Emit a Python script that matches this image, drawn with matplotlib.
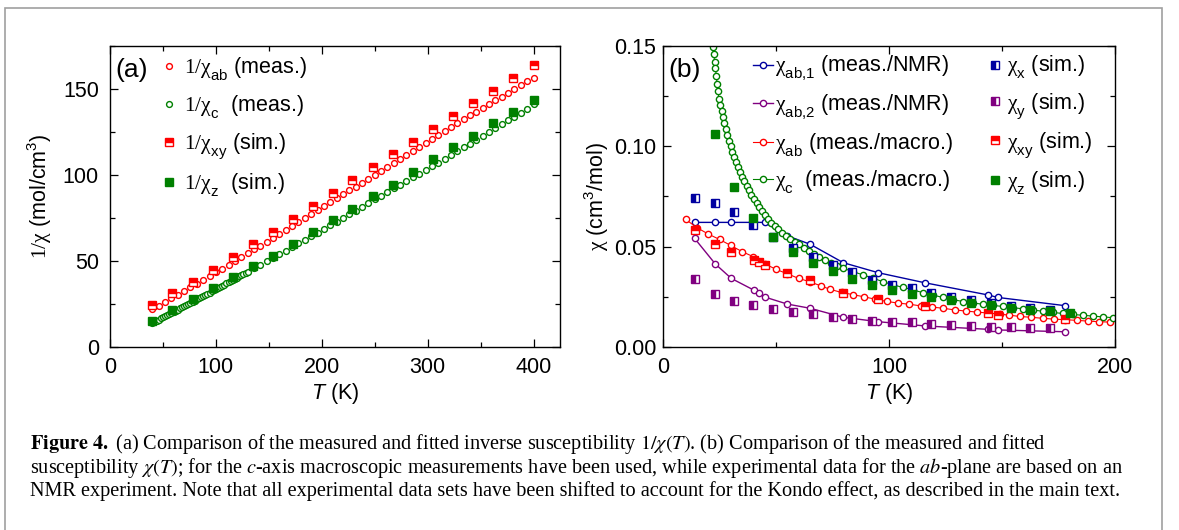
import matplotlib
matplotlib.use('Agg')
import matplotlib.pyplot as plt
import matplotlib._mathtext as mathtext_impl
from matplotlib.patches import Rectangle
from matplotlib.ticker import MultipleLocator, FormatStrFormatter

plt.rcParams['font.family'] = 'Liberation Sans'
plt.rcParams['mathtext.fontset'] = 'custom'
plt.rcParams['mathtext.rm'] = 'Liberation Serif'
plt.rcParams['mathtext.it'] = 'Liberation Sans:italic'
plt.rcParams['mathtext.sf'] = 'Liberation Sans'
plt.rcParams['mathtext.bf'] = 'Liberation Sans:bold'


# deeper subscripts than mathtext's default for the Liberation fonts
class LiberationConstants(mathtext_impl.FontConstantsBase):
    sub1 = 0.6
    sup1 = 0.75


for _name in ('Liberation Sans', 'Liberation Serif'):
    mathtext_impl._font_constant_mapping[_name] = LiberationConstants

RED = '#ff0000'
GREEN = '#008000'
BLUE = '#0000a0'
PURPLE = '#800080'

# ---------------- (a) inverse susceptibility ----------------
T_ab_a = [40, 46, 52, 58, 64, 70, 76, 82, 88, 94, 100, 106, 112, 118, 124, 130, 136, 142,
          148, 154, 160, 166, 172, 178, 184, 190, 196, 202, 208, 214, 220, 226, 232, 238,
          244, 250, 256, 262, 268, 274, 280, 286, 292, 298, 304, 310, 316, 322, 328, 334,
          340, 346, 352, 358, 364, 370, 376, 382, 388, 394, 400]
inv_ab = [22.0, 24.1, 26.2, 28.4, 30.5, 32.6, 34.7, 36.9, 39.0, 41.2, 43.4, 45.6, 47.8,
          50.0, 52.2, 54.5, 56.7, 59.0, 61.2, 63.5, 65.8, 68.1, 70.4, 72.6, 74.9, 77.2,
          79.5, 81.8, 84.1, 86.4, 88.7, 91.0, 93.3, 95.6, 97.9, 100.2, 102.5, 104.8, 107.1,
          109.4, 111.7, 114.0, 116.3, 118.6, 120.9, 123.2, 125.5, 127.8, 130.1, 132.4,
          134.6, 136.8, 139.0, 141.2, 143.4, 145.6, 147.8, 150.0, 152.2, 154.4, 156.6]

T_c_a = [40, 42, 44, 46, 48, 50, 52, 54, 56, 58, 60, 62, 64, 66, 68, 70, 72, 74, 76, 78,
         80, 82, 84, 86, 88, 90, 92, 94, 96, 98, 100, 102, 104, 106, 108, 110, 112, 114,
         116, 118, 120, 122, 124, 126, 128, 130,
         136, 142, 148, 154, 160, 166, 172, 178, 184, 190, 196, 202, 208, 214, 220, 226,
         232, 238, 244, 250, 256, 262, 268, 274, 280, 286, 292, 298, 304, 310, 316, 322,
         328, 334, 340, 346, 352, 358, 364, 370, 376, 382, 388, 394, 400]
inv_c = [14.0, 14.6, 15.3, 15.9, 16.6, 17.2, 17.9, 18.5, 19.2, 19.8, 20.5, 21.1, 21.8,
         22.4, 23.1, 23.7, 24.4, 25.0, 25.7, 26.3, 27.0, 27.7, 28.3, 29.0, 29.6, 30.3,
         31.0, 31.6, 32.3, 32.9, 33.6, 34.3, 35.0, 35.6, 36.3, 37.0, 37.7, 38.4, 39.0,
         39.7, 40.4, 41.1, 41.8, 42.4, 43.1, 43.8,
         45.8, 47.9, 49.9, 51.9, 54.0, 56.1, 58.1, 60.2, 62.3, 64.4, 66.5, 68.6, 70.8,
         72.9, 75.0, 77.1, 79.3, 81.4, 83.6, 85.8, 88.0, 90.1, 92.2, 94.3, 96.5, 98.6,
         100.7, 102.9, 105.0, 107.2, 109.4, 111.6, 113.8, 116.0, 118.3, 120.6, 122.9,
         125.1, 127.3, 129.5, 131.7, 134.0, 136.2, 138.5, 141.0]

T_sim_a = [40, 59, 78, 97, 116, 135, 154, 173, 192, 211, 229, 248, 267, 286, 305, 324,
           343, 362, 381, 400]
inv_xy = [24.4, 31.2, 37.8, 44.8, 52.1, 59.7, 66.9, 74.2, 81.8, 89.5, 97.1, 104.5, 112.2,
          119.4, 126.6, 134.3, 141.7, 148.8, 156.2, 164.0]
inv_z = [14.9, 21.5, 27.7, 34.1, 40.9, 47.1, 53.1, 59.9, 66.9, 73.6, 80.4, 87.6, 94.4,
         101.6, 109.1, 116.1, 122.7, 130.0, 136.8, 143.6]

# ---------------- (b) susceptibility ----------------
T_ab1 = [14.0, 23.2, 30.2, 45.0, 55.0, 65.1, 79.8, 95.3, 115.9, 144.0, 148.1, 177.9]
chi_ab1 = [0.0621, 0.0621, 0.0621, 0.0621, 0.0554, 0.0512, 0.0420, 0.0370, 0.0320,
           0.0259, 0.0247, 0.0206]

T_ab2 = [14.0, 23.2, 30.2, 40.1, 42.3, 45.3, 55.0, 65.1, 79.8, 95.3, 115.9, 144.0, 148.1,
         177.9]
chi_ab2 = [0.0541, 0.0413, 0.0342, 0.0284, 0.0270, 0.0248, 0.0214, 0.0193, 0.0148,
           0.0126, 0.0105, 0.0088, 0.0085, 0.0076]

T_ab = [10, 15, 20, 25, 30, 35, 40, 45, 50, 55, 60, 65, 70, 74, 79, 84, 89, 94, 99, 104,
        109, 114, 119, 124, 129, 134, 139, 144, 149, 153, 158, 163, 168, 173, 178, 183,
        188, 193, 198]
chi_ab = [0.0636, 0.0595, 0.0563, 0.0536, 0.0506, 0.0475, 0.0450, 0.0415, 0.0387, 0.0365,
          0.0342, 0.0325, 0.0304, 0.0287, 0.0272, 0.0261, 0.0250, 0.0238, 0.0227, 0.0219,
          0.0213, 0.0205, 0.0199, 0.0193, 0.0185, 0.0179, 0.0174, 0.0169, 0.0164, 0.0159,
          0.0152, 0.0148, 0.0143, 0.0139, 0.0136, 0.0133, 0.0129, 0.0126, 0.0124]

T_c = [22.1, 22.4, 22.9, 23.2, 23.6, 23.9, 24.3, 24.7, 25.3, 25.9, 26.5, 27.1, 27.7, 28.5,
       29.2, 30.0, 30.7, 31.4, 32.2, 33.2, 34.2, 35.1, 36.0, 37.0, 38.0, 39.1, 40.2, 41.4,
       42.6, 43.9, 45.2, 46.6, 48.0, 49.5, 51.1, 52.8, 54.5, 56.3, 58.2, 60.2, 62.3, 64.5,
       66.8, 69.2, 71.7, 74.3, 77.0, 79.8, 84.2, 88.6, 93.1, 97.5, 101.9, 106.3, 110.8,
       115.2, 119.6, 124.0, 128.5, 132.9, 137.3, 141.7, 146.1, 150.5, 155.0, 159.4, 163.8,
       168.2, 172.6, 177.0, 181.4, 185.9, 190.3, 194.7, 199.1]
chi_c = [0.1495, 0.1459, 0.1421, 0.1388, 0.1350, 0.1313, 0.1276, 0.1238, 0.1205, 0.1175,
         0.1144, 0.1114, 0.1084, 0.1056, 0.1027, 0.1001, 0.0973, 0.0948, 0.0923, 0.0898,
         0.0873, 0.0848, 0.0825, 0.0802, 0.0780, 0.0758, 0.0737, 0.0716, 0.0696, 0.0676,
         0.0657, 0.0638, 0.0620, 0.0603, 0.0586, 0.0570, 0.0555, 0.0540, 0.0525, 0.0511,
         0.0495, 0.0480, 0.0464, 0.0448, 0.0433, 0.0419, 0.0405, 0.0392, 0.0375, 0.0359,
         0.0342, 0.0325, 0.0309, 0.0297, 0.0284, 0.0270, 0.0258, 0.0247, 0.0236, 0.0226,
         0.0219, 0.0213, 0.0207, 0.0202, 0.0196, 0.0190, 0.0184, 0.0178, 0.0172, 0.0167,
         0.0162, 0.0158, 0.0154, 0.0150, 0.0146]

T_sim = [14.0, 22.8, 31.5, 40.0, 48.8, 57.5, 66.3, 75.1, 83.8, 92.6, 101.3, 110.1, 118.8,
         127.6, 136.3, 145.1, 153.8, 162.6, 171.3]
chi_x = [0.0745, 0.0720, 0.0671, 0.0608, 0.0548, 0.0492, 0.0450, 0.0408, 0.0375, 0.0334,
         0.0309, 0.0292, 0.0270, 0.0250, 0.0234, 0.0218, 0.0206, 0.0196, 0.0184]
chi_y = [0.0339, 0.0264, 0.0231, 0.0209, 0.0189, 0.0173, 0.0162, 0.0148, 0.0139, 0.0131,
         0.0126, 0.0123, 0.0113, 0.0110, 0.0105, 0.0101, 0.0098, 0.0096, 0.0093]

T_xy = [14.0, 23.2, 30.2, 40.1, 42.3, 45.3, 55.0, 65.1, 79.8, 95.3, 115.9, 144.0, 148.1,
        177.9]
chi_xy = [0.0583, 0.0513, 0.0475, 0.0433, 0.0425, 0.0408, 0.0367, 0.0334, 0.0267, 0.0238,
          0.0204, 0.0168, 0.0159, 0.0138]

T_z = [22.8, 31.5, 40.0, 48.8, 57.5, 66.3, 75.1, 83.8, 92.6, 101.3, 110.1, 118.8, 127.6,
       136.3, 145.1, 153.8, 162.6, 171.3, 180.1]
chi_z = [0.1061, 0.0798, 0.0641, 0.0549, 0.0475, 0.0421, 0.0380, 0.0339, 0.0309, 0.0284,
         0.0264, 0.0248, 0.0234, 0.0221, 0.0209, 0.0193, 0.0184, 0.0179, 0.0168]

caption = [
    r"$\mathbf{Figure\ 4.}$ (a) Comparison of the measured and fitted inverse susceptibility "
    r"$1/\chi(T)$. (b) Comparison of the measured and fitted",
    r"susceptibility $\chi(T)$; for the $c$-axis macroscopic measurements have been used, "
    r"while experimental data for the $ab$-plane are based on an",
    "NMR experiment. Note that all experimental data sets have been shifted to account for "
    "the Kondo effect, as described in the main text.",
]

W, H = 1179, 530
FS = 15.5
fig = plt.figure(figsize=(W / 100, H / 100), dpi=100)


def style_axes(ax, pad):
    ax.tick_params(which='both', direction='in', top=True, right=True, width=0.9,
                   labelsize=FS)
    ax.tick_params(which='major', length=6)
    ax.tick_params(which='minor', length=3.5)
    ax.tick_params(axis='x', pad=7)
    ax.tick_params(axis='y', pad=pad)
    for s in ax.spines.values():
        s.set_linewidth(1.0)


def sq(color, fill, size=6):
    return dict(marker='s', ls='none', ms=size, mec=color, mfc=color, mew=1.0,
                fillstyle=fill, markerfacecoloralt='white')


def circ(color, size=4.5):
    return dict(marker='o', ms=size, mec=color, mfc='white', mew=1.0)


def inv(sub):
    return r'$\mathrm{1/}\mathrm{\chi}_{\mathsf{' + sub + '}}$'


def chi(sub):
    return r'$\mathrm{\chi}_{\mathsf{' + sub + '}}$'


# panel (a)
ax1 = fig.add_axes([110 / W, (H - 347) / H, 450 / W, 301 / H])
ax1.plot(T_ab_a, inv_ab, ls='none', label=inv('ab') + ' (meas.)', **circ(RED, 4.2))
ax1.plot(T_c_a, inv_c, ls='none', label=inv('c') + '  (meas.)', **circ(GREEN, 4.2))
ax1.plot(T_sim_a, inv_xy, label=inv('xy') + ' (sim.)', **sq(RED, 'top'))
ax1.plot(T_sim_a, inv_z, label=inv('z') + '  (sim.)', **sq(GREEN, 'full'))
ax1.set_xlim(0, 425)
ax1.set_ylim(0, 175)
ax1.xaxis.set_major_locator(MultipleLocator(100))
ax1.xaxis.set_minor_locator(MultipleLocator(50))
ax1.yaxis.set_major_locator(MultipleLocator(50))
ax1.yaxis.set_minor_locator(MultipleLocator(25))
style_axes(ax1, 8)
ax1.set_xlabel(r'$T$ (K)', fontsize=FS, labelpad=2)
ax1.set_ylabel(r'$\mathrm{1/\chi}$ (mol/cm$^{\mathsf{3}}$)', fontsize=FS, labelpad=6)
ax1.text(0.012, 0.92, '(a)', transform=ax1.transAxes, fontsize=19, va='center')
ax1.legend(loc='upper left', bbox_to_anchor=(0.115, 0.968), frameon=False, fontsize=FS,
           handlelength=0.7, handletextpad=0.35, labelspacing=0.5, borderpad=0,
           borderaxespad=0)

# panel (b)
ax2 = fig.add_axes([663 / W, (H - 347) / H, 452 / W, 301 / H])
h1, = ax2.plot(T_ab1, chi_ab1, color=BLUE, lw=1.0, **circ(BLUE))
h2, = ax2.plot(T_ab2, chi_ab2, color=PURPLE, lw=1.0, **circ(PURPLE))
h3, = ax2.plot(T_ab, chi_ab, color=RED, lw=0.8, **circ(RED))
h4, = ax2.plot(T_c, chi_c, color=GREEN, lw=0.8, **circ(GREEN))
h5, = ax2.plot(T_sim, chi_x, **sq(BLUE, 'left'))
h6, = ax2.plot(T_sim, chi_y, **sq(PURPLE, 'left'))
h7, = ax2.plot(T_xy, chi_xy, **sq(RED, 'top'))
h8, = ax2.plot(T_z, chi_z, **sq(GREEN, 'full'))
ax2.set_xlim(0, 200)
ax2.set_ylim(0, 0.15)
ax2.xaxis.set_major_locator(MultipleLocator(100))
ax2.xaxis.set_minor_locator(MultipleLocator(50))
ax2.yaxis.set_major_locator(MultipleLocator(0.05))
ax2.yaxis.set_minor_locator(MultipleLocator(0.025))
ax2.yaxis.set_major_formatter(FormatStrFormatter('%.2f'))
style_axes(ax2, 5)
ax2.set_xlabel(r'$T$ (K)', fontsize=FS, labelpad=2)
ax2.set_ylabel(r'$\mathrm{\chi}$ (cm$^{\mathsf{3}}$/mol)', fontsize=FS, labelpad=2)
ax2.text(0.012, 0.92, '(b)', transform=ax2.transAxes, fontsize=19, va='center')
labels = [chi('ab{,}1') + ' (meas./NMR)',
          chi('ab{,}2') + ' (meas./NMR)',
          chi('ab') + ' (meas./macro.)',
          chi('c') + '  (meas./macro.)',
          chi('x') + ' (sim.)',
          chi('y') + ' (sim.)',
          chi('xy') + ' (sim.)',
          chi('z') + ' (sim.)']
ax2.legend([h1, h2, h3, h4, h5, h6, h7, h8], labels, ncol=2, loc='upper left',
           bbox_to_anchor=(0.2, 0.973), frameon=False, fontsize=FS, handlelength=0.9,
           handletextpad=0.1, columnspacing=1.5, labelspacing=0.45, borderpad=0,
           borderaxespad=0)

# caption below the panels
for i, line in enumerate(caption):
    fig.text(30 / W, (H - 449 - 23.5 * i) / H, line, family='Liberation Serif',
             math_fontfamily='stix', fontsize=14.6, va='baseline', ha='left')

# grey frame round the figure
fig.add_artist(Rectangle((5 / W, -0.05), 1157 / W, (H - 8) / H + 0.05,
                         transform=fig.transFigure, fill=False, edgecolor='#a0a0a0',
                         lw=1.2))

fig.savefig('out.png', dpi=100)
